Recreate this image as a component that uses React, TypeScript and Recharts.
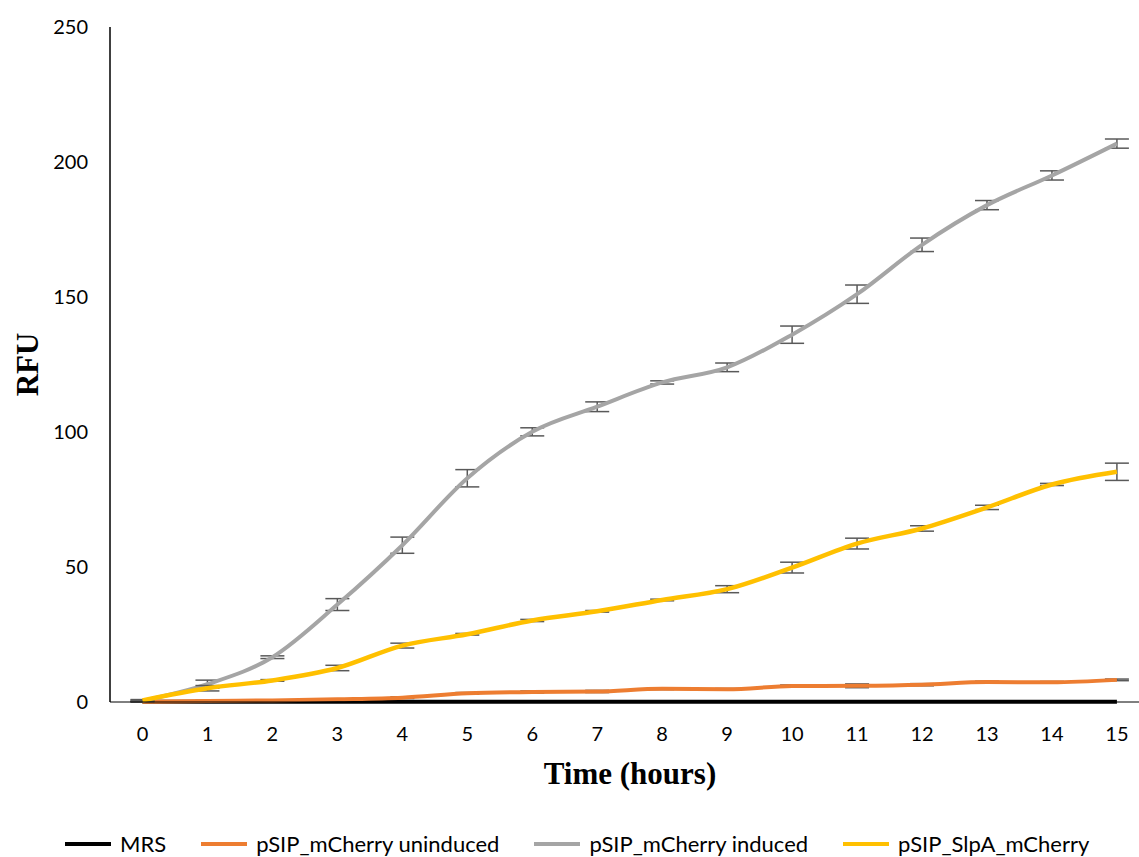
import { CartesianGrid, ErrorBar, Line, LineChart, XAxis, YAxis } from "recharts";

document.body.style.margin = "0";

const hours = [0, 1, 2, 3, 4, 5, 6, 7, 8, 9, 10, 11, 12, 13, 14, 15];
const mrs = [0, 0, 0, 0, 0, 0, 0, 0, 0, 0, 0, 0, 0, 0, 0, 0];
const uninduced = [0, 0.3, 0.5, 0.9, 1.5, 3.1, 3.6, 3.8, 4.8, 4.6, 5.8, 5.9, 6.3, 7.3, 7.2, 8.1];
const uninducedErr = [0.1, 0.2, 0.2, 0.2, 0.3, 0.3, 0.4, 0.4, 0.3, 0.3, 0.4, 0.7, 0.4, 0.3, 0.3, 0.3];
const induced = [0.3, 6.5, 16.5, 36, 58, 82.8, 100, 109.3, 118.3, 123.9, 136, 151, 169.3, 184, 195, 206.8];
const inducedErr = [0.3, 1.5, 0.5, 2.2, 3, 3.2, 1.5, 1.8, 0.6, 1.6, 3.2, 3.4, 2.5, 1.7, 1.7, 1.7];
const slpa = [0.5, 5, 7.9, 12.5, 20.8, 25, 30.1, 33.5, 37.7, 41.7, 49.7, 58.6, 64.2, 72, 80.5, 85.2];
const slpaErr = [0.3, 1, 0.3, 1, 0.9, 0.3, 0.4, 0.3, 0.3, 1.3, 2, 2, 1, 0.8, 0.4, 3.2];
const yTicks = [0, 50, 100, 150, 200, 250];

const series = [
  { key: "mrs", name: "MRS", color: "#000000" },
  { key: "uninduced", name: "pSIP_mCherry uninduced", color: "#ED7D31" },
  { key: "induced", name: "pSIP_mCherry induced", color: "#A5A5A5" },
  { key: "slpa", name: "pSIP_SlpA_mCherry", color: "#FFC000" },
];

const data = hours.map((h, i) => ({
  hour: h,
  mrs: mrs[i],
  uninduced: uninduced[i],
  uninducedErr: uninducedErr[i],
  induced: induced[i],
  inducedErr: inducedErr[i],
  slpa: slpa[i],
  slpaErr: slpaErr[i],
}));

const tickFont = { fontFamily: "Lato", fontSize: 20, fill: "#000" };
const titleStyle = { fontFamily: "Liberation Serif", fontWeight: 700, fontSize: 31, fill: "#000" };

function ChartLegend() {
  return (
    <div
      style={{
        position: "absolute",
        top: 833,
        left: 65,
        height: 22,
        lineHeight: "22px",
        display: "flex",
        alignItems: "center",
        gap: 35,
        fontFamily: "Lato",
        fontSize: 22,
        color: "#000",
        whiteSpace: "nowrap",
      }}
    >
      {series.map((s) => (
        <div key={s.key} style={{ display: "flex", alignItems: "center", gap: 9 }}>
          <span style={{ display: "inline-block", width: 46, height: 4, background: s.color }} />
          <span>{s.name}</span>
        </div>
      ))}
    </div>
  );
}

export default function App() {
  return (
    <div style={{ position: "relative", width: 1139, height: 857, background: "#fff", overflow: "hidden" }}>
      <LineChart width={1139} height={857} data={data} margin={{ top: 27, right: 0, bottom: 0, left: 0 }}>
        <CartesianGrid horizontal={false} vertical={false} />
        <XAxis
          dataKey="hour"
          type="number"
          domain={[-0.5, 15.34]}
          ticks={hours}
          allowDataOverflow
          height={155}
          tickLine={false}
          tickSize={0}
          tickMargin={25}
          axisLine={{ stroke: "#000", strokeWidth: 1 }}
          tick={tickFont}
          label={{
            content: ({ viewBox }: any) => (
              <text x={viewBox.x + 520} y={viewBox.y + 71} textAnchor="middle" dominantBaseline="central" style={titleStyle}>
                Time (hours)
              </text>
            ),
          }}
        />
        <YAxis
          domain={[0, 250]}
          ticks={yTicks}
          width={110}
          tickLine={false}
          tickSize={0}
          tickMargin={22}
          axisLine={{ stroke: "#000", strokeWidth: 1.5 }}
          tick={tickFont}
          label={{
            content: ({ viewBox }: any) => (
              <text
                x={27}
                y={viewBox.y + viewBox.height / 2}
                textAnchor="middle"
                dominantBaseline="central"
                transform={`rotate(-90, 27, ${viewBox.y + viewBox.height / 2})`}
                style={titleStyle}
              >
                RFU
              </text>
            ),
          }}
        />
        <Line dataKey="mrs" name="MRS" type="monotone" stroke="#000" strokeWidth={4} dot={false} isAnimationActive={false} />
        <Line dataKey="uninduced" name="pSIP_mCherry uninduced" type="monotone" stroke="#ED7D31" strokeWidth={4} dot={false} isAnimationActive={false}>
          <ErrorBar dataKey="uninducedErr" width={12} stroke="#595959" strokeWidth={1.5} direction="y" isAnimationActive={false} />
        </Line>
        <Line dataKey="induced" name="pSIP_mCherry induced" type="monotone" stroke="#A5A5A5" strokeWidth={4} dot={false} isAnimationActive={false}>
          <ErrorBar dataKey="inducedErr" width={12} stroke="#595959" strokeWidth={1.5} direction="y" isAnimationActive={false} />
        </Line>
        <Line dataKey="slpa" name="pSIP_SlpA_mCherry" type="monotone" stroke="#FFC000" strokeWidth={4.5} dot={false} isAnimationActive={false}>
          <ErrorBar dataKey="slpaErr" width={12} stroke="#595959" strokeWidth={1.5} direction="y" isAnimationActive={false} />
        </Line>
      </LineChart>
      <ChartLegend />
    </div>
  );
}
